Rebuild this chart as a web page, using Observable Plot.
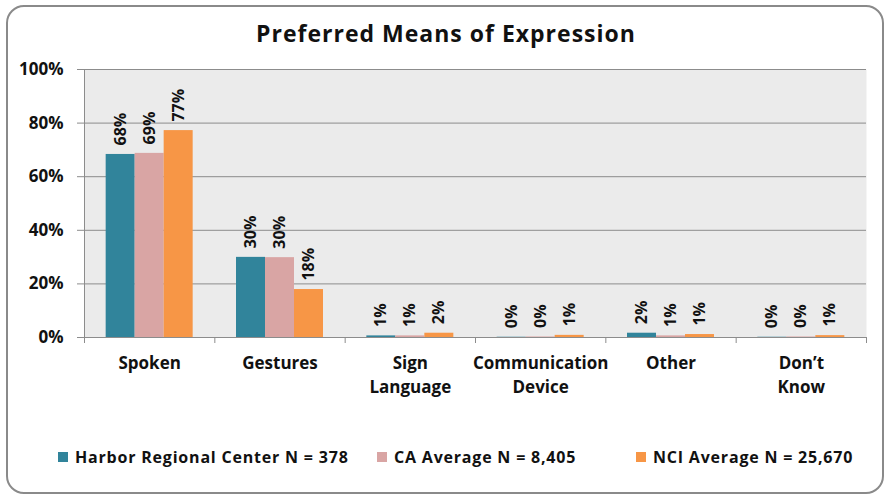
<!DOCTYPE html>
<html>
<head>
<meta charset="utf-8">
<script src="https://cdn.jsdelivr.net/npm/d3@7"></script>
<script src="https://cdn.jsdelivr.net/npm/@observablehq/plot@0.6"></script>
<style>
  html, body { margin: 0; padding: 0; background: #fff; }
  #wrap { position: relative; width: 892px; height: 499px; overflow: hidden; font-family: "Open Sans", sans-serif; color: #111; }
  #box { position: absolute; left: 6px; top: 5px; width: 878px; height: 489px; border: 2px solid #8a8a8a; border-radius: 18px; box-sizing: border-box; }
  #title { position: absolute; top: 18px; left: 0; width: 892px; text-align: center; font-weight: 700; font-size: 23px; letter-spacing: 1px; line-height: 30px; }
  #chart { position: absolute; left: 0; top: 0; }
  .leg { position: absolute; top: 446px; font-weight: 700; font-size: 16px; letter-spacing: 0.8px; line-height: 22px; white-space: nowrap; display: flex; align-items: center; }
  .sw { display: inline-block; width: 10px; height: 10px; margin-right: 7px; }
  g[aria-label="category-label"] text { letter-spacing: 1px; }
  g[aria-label="y-label"] text { letter-spacing: 1px; }
</style>
</head>
<body>
<div id="wrap">
  <div id="box"></div>
  <div id="title">Preferred Means of Expression</div>
  <div id="chart"></div>
  <div id="legend"></div>
</div>
<script>
const categories = ["Spoken", "Gestures", "Sign\nLanguage", "Communication\nDevice", "Other", "Don\u2019t\nKnow"];
const seriesNames = ["Harbor Regional Center N = 378", "CA Average N = 8,405", "NCI Average N = 25,670"];
const harbor = [68.3, 29.9, 0.6, 0.1, 1.6, 0.1];
const caAverage = [68.7, 29.8, 0.6, 0.2, 0.6, 0.2];
const nciAverage = [77.2, 17.9, 1.6, 0.8, 1.1, 0.7];
const seriesColors = ["#31849B", "#D9A5A4", "#F79646"];
const yTicks = [0, 20, 40, 60, 80, 100];

const seriesValues = [harbor, caAverage, nciAverage];
const barFrac = 0.2225;
const groupPad = (1 - seriesNames.length * barFrac) / 2;

const rows = [];
categories.forEach((c, ci) => {
  seriesNames.forEach((s, si) => {
    const v = seriesValues[si][ci];
    rows.push({
      category: c, series: s, value: v,
      label: Math.round(v) + "%",
      x1: ci + groupPad + si * barFrac,
      x2: ci + groupPad + (si + 1) * barFrac
    });
  });
});

const grid = "#8c8c8c";
const chart = Plot.plot({
  width: 892,
  height: 430,
  marginLeft: 84,
  marginRight: 26,
  marginTop: 69,
  marginBottom: 93,
  style: { fontFamily: "'Open Sans', sans-serif", color: "#111", background: "transparent" },
  x: { domain: [0, categories.length] },
  y: { domain: [0, 100] },
  color: { domain: seriesNames, range: seriesColors },
  marks: [
    Plot.frame({ fill: "#ebebeb", stroke: null }),
    Plot.gridY(yTicks, { stroke: grid, strokeOpacity: 1, strokeWidth: 1 }),
    Plot.axisY({ ticks: yTicks, tickSize: 7, tickFormat: () => "", stroke: grid, strokeOpacity: 1, label: null }),
    Plot.axisY({ ticks: yTicks, tickSize: 0, tickPadding: 21, tickFormat: d => d + "%", fontWeight: "bold", fontSize: 17, fill: "#111", label: null, ariaLabel: "y-label" }),
    Plot.ruleX([0], { stroke: grid }),
    Plot.ruleY([0], { stroke: grid }),
    Plot.axisX({ ticks: d3.range(categories.length + 1), tickSize: 6, tickFormat: () => "", stroke: grid, strokeOpacity: 1, label: null }),
    Plot.text(categories, { x: (d, i) => i + 0.5, y: () => 0, text: d => d, dy: 14, lineAnchor: "top", lineHeight: 1.42, fontWeight: "bold", fontSize: 17, fill: "#111", ariaLabel: "category-label" }),
    Plot.rect(rows, { x1: "x1", x2: "x2", y1: () => 0, y2: "value", fill: "series" }),
    Plot.text(rows, { x: d => (d.x1 + d.x2) / 2, y: "value", text: "label", rotate: -90, textAnchor: "start", dy: -9, fontWeight: "bold", fontSize: 16, fill: "#111" })
  ]
});
document.getElementById("chart").appendChild(chart);

const legendLefts = [58, 377, 636];
const legend = document.getElementById("legend");
seriesNames.forEach((s, i) => {
  const item = document.createElement("div");
  item.className = "leg";
  item.style.left = legendLefts[i] + "px";
  item.innerHTML = `<span class="sw" style="background:${seriesColors[i]}"></span>${s}`;
  legend.appendChild(item);
});
</script>
</body>
</html>
